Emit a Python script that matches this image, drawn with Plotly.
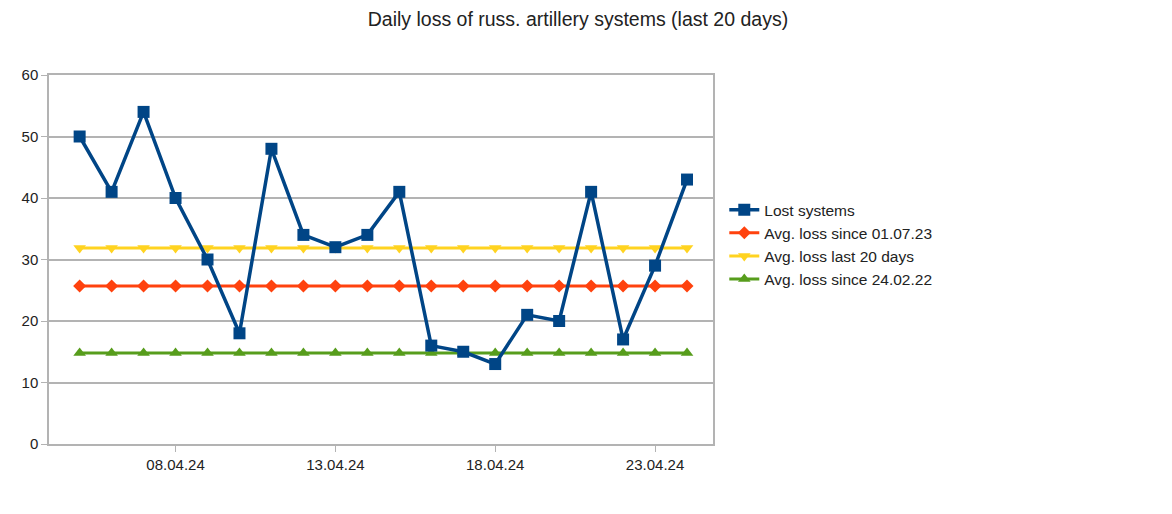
import plotly.graph_objects as go
import pandas as pd

dates = pd.date_range("2024-04-05", "2024-04-24", freq="D")
lost_systems = [50, 41, 54, 40, 30, 18, 48, 34, 32, 34, 41, 16, 15, 13, 21, 20, 41, 17, 29, 43]
avg_since_010723 = [25.7] * 20
avg_last_20 = [31.85] * 20
avg_since_240222 = [14.8] * 20

series = [
    ("Lost systems", lost_systems, "#004586", "square", 12, 3.5, 1),
    ("Avg. loss since 01.07.23", avg_since_010723, "#ff420e", "diamond", 10, 3, 2),
    ("Avg. loss last 20 days", avg_last_20, "#ffd320", "triangle-down", 11, 3, 3),
    ("Avg. loss since 24.02.22", avg_since_240222, "#579d1c", "triangle-up", 11, 3, 4),
]

fig = go.Figure()
for name, vals, color, sym, size, w, rank in [series[1], series[2], series[3], series[0]]:
    fig.add_trace(go.Scatter(
        x=dates, y=vals, name=name, mode="lines+markers",
        line=dict(color=color, width=w),
        marker=dict(symbol=sym, size=size, color=color),
        legendrank=rank,
    ))

grid = "#b3b3b3"
fig.update_layout(
    width=1172, height=514,
    margin=dict(l=41, r=467, t=67, b=78),
    paper_bgcolor="white", plot_bgcolor="white",
    font=dict(family="Liberation Sans, Arial, sans-serif", size=15, color="#222"),
    title=dict(text="Daily loss of russ. artillery systems (last 20 days)",
               x=0.4863, xanchor="center", y=0.978, yanchor="middle",
               font=dict(size=19.5, color="#222")),
    showlegend=True,
    legend=dict(x=1.017, y=0.68, xanchor="left", yanchor="top",
                font=dict(size=15.5, color="#222"), tracegroupgap=0,
                bgcolor="rgba(0,0,0,0)", itemwidth=30),
    xaxis=dict(
        type="date",
        range=[pd.Timestamp("2024-04-04 01:00"), pd.Timestamp("2024-04-24 19:30")],
        tick0="2024-04-08", dtick=5 * 86400000, tickformat="%d.%m.%y",
        showgrid=False, showline=True, linecolor=grid, linewidth=1.5,
        mirror=True, ticks="outside", tickcolor=grid, ticklen=6,
        zeroline=False, tickfont=dict(size=15),
    ),
    yaxis=dict(
        range=[0, 60], dtick=10, showgrid=True, gridcolor=grid, gridwidth=1.5,
        showline=True, linecolor=grid, linewidth=1.5, mirror=True,
        ticks="outside", tickcolor=grid, ticklen=6, zeroline=False,
        tickfont=dict(size=15),
    ),
)

fig.write_html("out.html")
